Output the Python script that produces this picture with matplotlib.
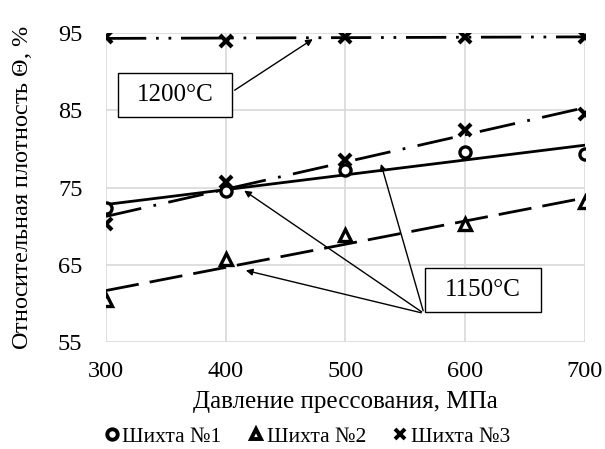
import numpy as np
import matplotlib
matplotlib.use('Agg')
import matplotlib.pyplot as plt
from matplotlib.patches import Rectangle

plt.rcParams['font.family'] = ['Liberation Serif', 'DejaVu Serif']
plt.rcParams['mathtext.fontset'] = 'custom'
plt.rcParams['mathtext.it'] = 'Liberation Serif:italic'
plt.rcParams['mathtext.rm'] = 'Liberation Serif'
plt.rcParams['lines.scale_dashes'] = False

pressure = [300, 400, 500, 600, 700]
mix1 = [72.3, 74.6, 77.3, 79.6, 79.4]
mix2 = [60.4, 65.7, 68.8, 70.3, 73.1]
mix3_1150 = [70.3, 75.7, 78.5, 82.5, 84.5]
mix3_1200 = [94.5, 94.0, 94.5, 94.5, 94.5]
labels = ['Шихта №1', 'Шихта №2', 'Шихта №3']

fig = plt.figure(figsize=(6.05, 4.49), dpi=100)
ax = fig.add_axes([0.1752, 0.2383, 0.7917, 0.6882])

x = np.array(pressure, dtype=float)
xs = np.array([300, 700], dtype=float)

def trend(y):
    k, b = np.polyfit(x, y, 1)
    return k * xs + b

# trend lines
ax.plot(xs, trend(mix1), color='black', lw=2.0, ls='-')
ax.plot(xs, trend(mix2), color='black', lw=2.0, ls=(0, (24, 8)))
ax.plot(xs, trend(mix3_1150), color='black', lw=2.0, ls=(0, (26, 9, 2, 9)))
ax.plot(xs, trend(mix3_1200), color='black', lw=2.0, ls=(0, (29, 7, 2, 7, 2, 7)))

# points
ax.plot(x, mix1, 'o', ms=8, mfc='white', mec='black', mew=2.4, ls='none', label=labels[0], zorder=5)
ax.plot(x, mix2, '^', ms=8.5, mfc='white', mec='black', mew=2.4, ls='none', label=labels[1], zorder=5)
ax.plot(x, mix3_1150, 'x', ms=8.5, color='black', mew=3, ls='none', label=labels[2], zorder=5)
ax.plot(x, mix3_1200, 'x', ms=8.5, color='black', mew=3, ls='none', zorder=5)

ax.set_xlim(300, 700)
ax.set_ylim(55, 95)
ax.set_xticks([300, 400, 500, 600, 700])
ax.set_yticks([55, 65, 75, 85, 95])
ax.grid(True, color='#d9d9d9', lw=1.2)
ax.set_axisbelow(True)
for s in ax.spines.values():
    s.set_visible(False)
ax.tick_params(axis='x', length=0, labelsize=17.5, pad=14)
ax.tick_params(axis='y', length=0, labelsize=17.5, pad=17)
ax.set_xlabel('Давление прессования, МПа', fontsize=18, va='center')
ax.xaxis.set_label_coords(0.5, -0.194)
ax.set_ylabel(r'Относительная плотность $\mathit{Θ}$, %', fontsize=17.5, va='center')
ax.yaxis.set_label_coords(-0.175, 0.5)

# annotation boxes
ax.add_patch(Rectangle((310, 84.1), 95.5, 5.7, fc='white', ec='black', lw=1, zorder=6))
ax.text(358, 87.0, '1200°C', fontsize=18, ha='center', va='center', zorder=7)
ax.annotate('', xy=(474.6, 94.4), xytext=(405.5, 87.4),
            arrowprops=dict(arrowstyle='-|>', color='black', lw=1, mutation_scale=10), zorder=6)

ax.add_patch(Rectangle((566.4, 58.9), 96.6, 5.7, fc='white', ec='black', lw=1, zorder=6))
ax.text(614.7, 61.75, '1150°C', fontsize=18, ha='center', va='center', zorder=7)
origin = (565.5, 58.7)
for tgt in [(414.5, 64.35), (413.5, 74.8), (529, 78.4)]:
    ax.annotate('', xy=tgt, xytext=origin,
                arrowprops=dict(arrowstyle='-|>', color='black', lw=1, mutation_scale=10), zorder=6)

leg = fig.legend(loc='center', bbox_to_anchor=(0.505, 0.027), ncol=3, frameon=False,
                 fontsize=15.5, handletextpad=0.0, columnspacing=1.1, handlelength=1.0,
                 borderpad=0)
for h in leg.legend_handles:
    h.set_markersize(7.5)
    h.set_markeredgewidth(2.8)

fig.savefig('out.png', dpi=100)
